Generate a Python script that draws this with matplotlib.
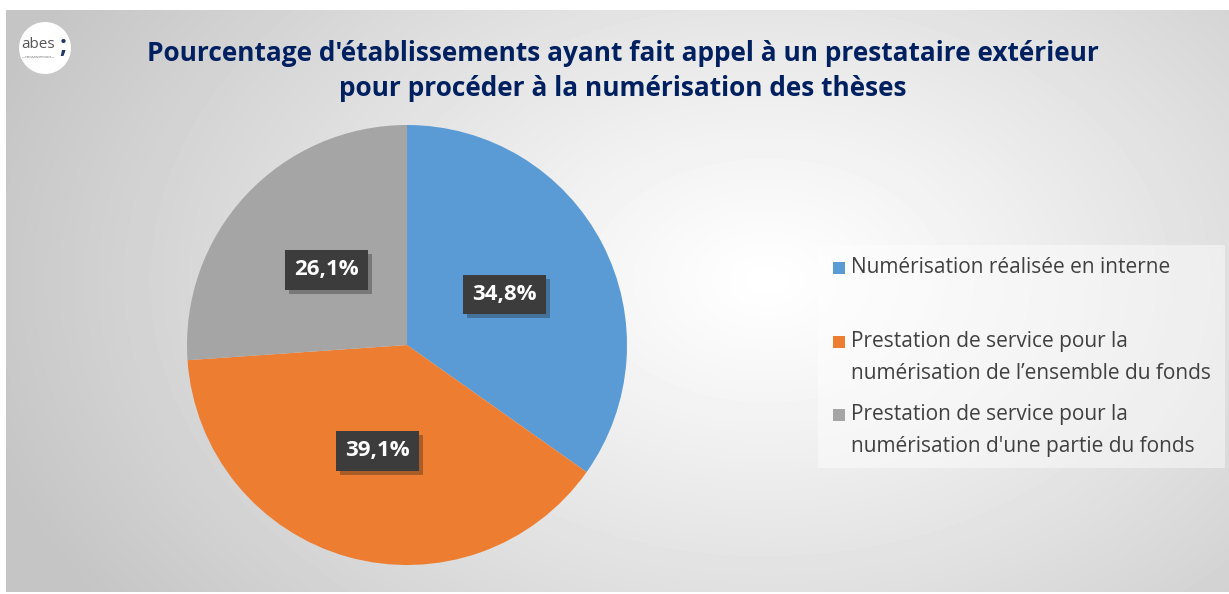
import numpy as np
import matplotlib.pyplot as plt
import matplotlib.patheffects as pe
from matplotlib.patches import Rectangle, Ellipse

# Data
labels = ["Numérisation réalisée en interne",
          "Prestation de service pour la\nnumérisation de l\u2019ensemble du fonds",
          "Prestation de service pour la\nnumérisation d'une partie du fonds"]
values = [34.8, 39.1, 26.1]
colors = ["#5b9bd5", "#ed7d31", "#a5a5a5"]
title = ("Pourcentage d'établissements ayant fait appel à un prestataire extérieur\n"
         "pour procéder à la numérisation des thèses")

W, H = 1229, 594
fig = plt.figure(figsize=(W / 100, H / 100), dpi=100)
fig.patch.set_facecolor("white")

# radial grey background
bg = fig.add_axes([6 / W, 2 / H, (W - 6) / W, 582 / H])
bg.set_axis_off()
yy, xx = np.mgrid[0:582, 0:1223]
d = np.sqrt(((xx - 760) / 820.0) ** 2 + ((yy - 270) / 560.0) ** 2)
grad = 1.0 - (1.0 - 0.77) * np.clip(d, 0, 1) ** 1.1
bg.imshow(grad, cmap="gray", vmin=0, vmax=1, aspect="auto", interpolation="bilinear")

# pie
ax = fig.add_axes([187 / W, 29 / H, 440 / W, 440 / H])
wedges, texts, autotexts = ax.pie(
    values, colors=colors, startangle=90, counterclock=False,
    autopct=lambda p: f"{p:.1f}%".replace(".", ","), pctdistance=0.5,
    wedgeprops=dict(linewidth=0))
ax.set_xlim(-1, 1)
ax.set_ylim(-1, 1)
ax.set_aspect("equal")
for t in autotexts:
    t.set_color("white")
    t.set_fontsize(16)
    t.set_fontweight("bold")
    t.set_fontfamily("Open Sans")
    t.set_bbox(dict(boxstyle="square,pad=0.42", facecolor="#3c3c3c", edgecolor="none"))
    t.get_bbox_patch().set_path_effects([pe.SimplePatchShadow(offset=(3, -3), alpha=0.3), pe.Normal()])

# title
fig.text(623 / W, 1 - 71 / H, title, ha="center", va="center", fontsize=18.9,
         fontweight="bold", color="#002060", family="Open Sans", linespacing=1.38)

# legend (drawn by hand to match spacing)
fig.patches.append(Rectangle((818 / W, 1 - 468 / H), 407 / W, 223 / H, transform=fig.transFigure,
                             facecolor="white", alpha=0.45, edgecolor="none"))
leg_y = [268, 357.5, 430.5]
for lab, col, y in zip(labels, colors, leg_y):
    first = y - (15.5 if "\n" in lab else 0)
    fig.patches.append(Rectangle((833 / W, 1 - (first + 6) / H), 12 / W, 12 / H,
                                 transform=fig.transFigure, facecolor=col, edgecolor="none"))
    fig.text(851 / W, 1 - y / H, lab, ha="left", va="center", fontsize=15,
             color="#404040", family="Open Sans", linespacing=1.66)

# logo
fig.patches.append(Ellipse((45 / W, 1 - 48 / H), 52 / W, 52 / H, transform=fig.transFigure,
                           facecolor="white", edgecolor="none"))
fig.text(38 / W, 1 - 45 / H, "abes", ha="center", va="center", fontsize=11, color="#555555",
         family="Open Sans")
fig.text(38 / W, 1 - 57 / H, "agence bibliographique\nde l'enseignement supérieur", ha="center",
         va="center", fontsize=1.6, color="#666666")
fig.text(63 / W, 1 - 47 / H, ";", ha="center", va="center", fontsize=18, fontweight="bold",
         color="#1f3864", family="Open Sans")

fig.savefig("out.png", dpi=100)
